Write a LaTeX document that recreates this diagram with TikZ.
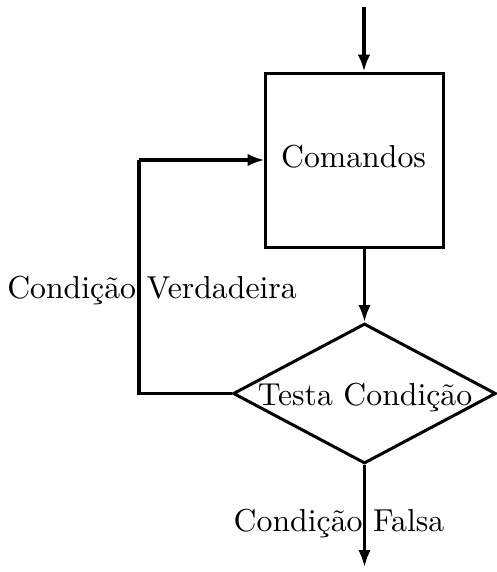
\documentclass[tikz,border=0pt]{standalone}
\usetikzlibrary{shapes.geometric,arrows.meta}
\begin{document}
\begin{tikzpicture}[x=0.315pt,y=-0.315pt,
  line/.style={line width=0.95pt},
  arr/.style={line, -{Latex[length=5.3pt,width=3.9pt]}},
  cmdbox/.style={draw, line, rectangle, minimum width=55.8pt, minimum height=55.1pt, inner sep=0pt},
  testbox/.style={draw, line, diamond, minimum width=82.8pt, minimum height=44.1pt, inner sep=0pt},
  lbl/.style={inner sep=0pt}]
\useasboundingbox (0,0) rectangle (496,572);
\coordinate (start) at (364,7);
\node[cmdbox] (cmd) at (354.5,160.5) {};
\node[lbl] (cmdt) at (353.5,157) {Comandos};
\node[testbox] (test) at (364.5,393.5) {};
\node[lbl] (testt) at (365,397) {Testa Condição};
\coordinate (end) at (364.5,567);
\coordinate (lb) at (139,393.5);
\coordinate (lt) at (139,160);
\draw[arr] (start) -- (start |- cmd.north);
\draw[arr] (cmd.south -| test.north) -- (test.north);
\draw[line] (test.west) -- (lb) -- (lt);
\draw[arr] (lt) -- (lt -| cmd.west);
\draw[arr] (test.south) -- (end);
\node[lbl] (ltrue) at (152,290) {Condição Verdadeira};
\node[lbl] (lfalse) at (339,523) {Condição Falsa};
\end{tikzpicture}
\end{document}
